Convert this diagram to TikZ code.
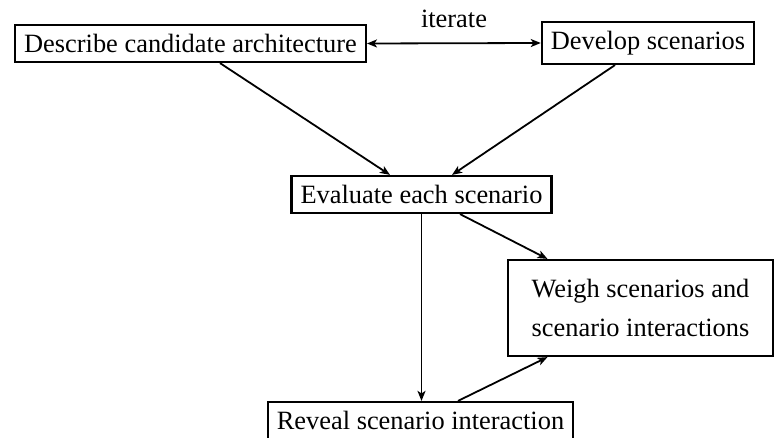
\documentclass[tikz,border=0pt]{standalone}
\usepackage{fontspec}
\setmainfont{Liberation Serif}
\usetikzlibrary{arrows.meta}
\begin{document}
\begin{tikzpicture}[
        x=0.5pt, y=-0.5pt,
        >={Stealth[length=5pt, width=4pt, inset=1.3pt]},
        every node/.style={font=\fontsize{13.2}{19.5}\selectfont},
        box/.style={draw, line width=1.1pt, inner sep=4.5pt, minimum height=18.5pt},
        bigbox/.style={box, align=center, minimum width=132.5pt, minimum height=48pt},
        every path/.style={line width=0.9pt}
    ]
        \useasboundingbox (0,0) rectangle (775,438);

        % Boxes
        \node[box] (describe) at (190.5,43.5) {Describe candidate architecture};
        \node[box] (develop) at (648,43) {Develop scenarios};
        \node[box] (evaluate) at (421.5,194.5) {Evaluate each scenario};
        \node[bigbox] (weigh) at (640.5,308) {Weigh scenarios and\\scenario interactions};
        \node[box] (reveal) at (420.5,420.5) {Reveal scenario interaction};
        \node (iter) at (454,19) {iterate};

        % Arrows
        \draw[<->] (describe.east) -- (develop.west);
        \draw[->] ([xshift=14.75pt]describe.south) -- ([xshift=-15.75pt]evaluate.north);
        \draw[->] ([xshift=-16.5pt]develop.south) -- ([xshift=15.25pt]evaluate.north);
        \draw[->] ([xshift=19.25pt]evaluate.south) -- ([xshift=-46.5pt]weigh.north);
        \draw[->] (evaluate.south) -- (evaluate.south |- reveal.north);
        \draw[->] ([xshift=18.75pt]reveal.north) -- ([xshift=-46.5pt]weigh.south);
    \end{tikzpicture}
\end{document}
